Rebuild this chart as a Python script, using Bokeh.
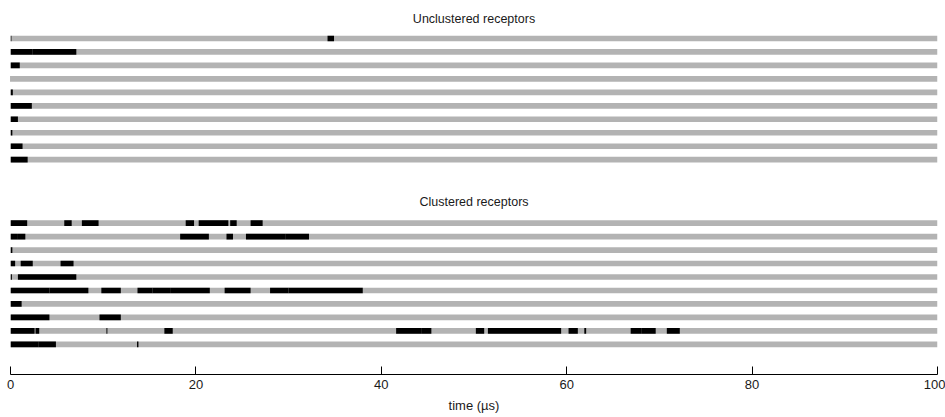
from bokeh.plotting import figure
from bokeh.models import Range1d, ColumnDataSource, FixedTicker
from bokeh.core.properties import value
from bokeh.embed import file_html
from bokeh.resources import INLINE

# ---- data -------------------------------------------------------------
t_max = 100
x_ticks = [0, 20, 40, 60, 80, 100]
panel_titles = ["Unclustered receptors", "Clustered receptors"]
x_label = "time (\u00b5s)"

# open (black) intervals per receptor, in µs
unclustered_open = [
    [(0.0, 0.1), (34.2, 34.9)],
    [(0.0, 2.4), (2.4, 7.1)],
    [(0.0, 1.0)],
    [(0.0, 0.05)],
    [(0.0, 0.25)],
    [(0.0, 2.3)],
    [(0.0, 0.8)],
    [(0.0, 0.2)],
    [(0.0, 1.3)],
    [(0.0, 1.85)],
]

clustered_open = [
    [(0.0, 1.8), (5.8, 6.6), (7.7, 9.5), (18.9, 19.8), (20.3, 23.5), (23.7, 24.4), (25.9, 27.2)],
    [(0.0, 0.8), (0.8, 1.6), (18.3, 21.4), (23.3, 24.0), (25.4, 29.7), (29.7, 32.2)],
    [(0.0, 0.2)],
    [(0.0, 0.5), (1.1, 2.4), (5.4, 6.8)],
    [(0.0, 0.15), (0.8, 7.1)],
    [(0.0, 4.2), (4.2, 8.4), (9.8, 11.9), (13.7, 15.3), (15.3, 17.3), (17.3, 21.5),
     (23.1, 25.9), (28.0, 30.0), (30.0, 38.0)],
    [(0.0, 1.2)],
    [(0.0, 4.2), (9.6, 11.9)],
    [(0.0, 2.6), (2.7, 3.1), (10.35, 10.45), (16.6, 17.5), (41.6, 44.3), (44.3, 45.4),
     (50.2, 51.1), (51.5, 59.4), (60.2, 61.2), (61.9, 62.1), (66.9, 68.1), (68.1, 69.6),
     (70.8, 72.2)],
    [(0.0, 3.05), (3.05, 4.9), (13.65, 13.8)],
]

# ---- layout constants (in row units) -------------------------------------
panel_offsets = [0.0, 13.71]
title_offsets = [-1.48, 12.16]
bar_h = 0.42
gray = "#b3b3b3"
font = value("Liberation Sans")

p = figure(width=945, height=415, output_backend="svg", toolbar_location=None,
           x_range=Range1d(0, t_max), y_range=Range1d(24.95, -2.82),
           y_axis_type=None, min_border_left=10, min_border_right=8,
           min_border_top=0, min_border_bottom=0)
p.outline_line_color = None
p.grid.visible = False

for panel, off, toff, title in zip([unclustered_open, clustered_open],
                                   panel_offsets, title_offsets, panel_titles):
    ys = [off + i for i in range(len(panel))]
    p.hbar(y=ys, left=0, right=t_max, height=bar_h, fill_color=gray, line_color=None)
    by, bl, br = [], [], []
    for i, segs in enumerate(panel):
        for a, b in segs:
            by.append(off + i)
            bl.append(a)
            br.append(b)
    p.hbar(source=ColumnDataSource(dict(y=by, left=bl, right=br)), y="y", left="left",
           right="right", height=bar_h, fill_color="black", line_color=None)
    p.text(x=[t_max / 2], y=[toff], text=[title], text_align="center",
           text_baseline="middle", text_font=font, text_font_size="12.5px",
           text_color="#1a1a1a")

ax = p.xaxis[0]
ax.ticker = FixedTicker(ticks=x_ticks)
ax.major_tick_in = 8
ax.major_tick_out = 0
ax.minor_tick_in = 0
ax.minor_tick_out = 0
ax.axis_line_color = "black"
ax.major_tick_line_color = "black"
ax.major_label_text_font = "Liberation Sans"
ax.major_label_text_font_size = "13px"
ax.major_label_text_color = "#1a1a1a"
ax.major_label_standoff = 5
ax.axis_label = x_label
ax.axis_label_text_font = "Liberation Sans"
ax.axis_label_text_font_size = "13px"
ax.axis_label_text_font_style = "normal"
ax.axis_label_text_color = "#1a1a1a"
ax.axis_label_standoff = 6

open("out.html", "w").write(file_html(p, INLINE))
